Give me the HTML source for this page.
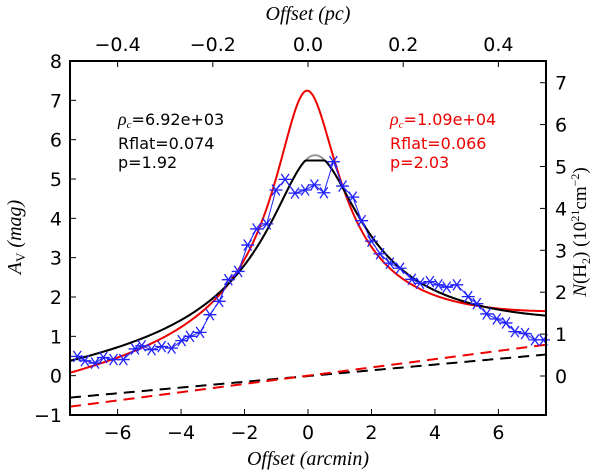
<!DOCTYPE html>
<html><head><meta charset="utf-8"><style>
body{margin:0;background:#fff;}
svg{display:block;font-family:"DejaVu Sans","Liberation Sans",sans-serif;}
</style></head><body>
<svg id="chart" width="600" height="473" viewBox="0 0 600 473">
<g id="plot"></g>
</svg>
<script>
const obsX=[-7.27,-7.03,-6.71,-6.45,-6.13,-5.82,-5.45,-5.24,-4.93,-4.61,-4.30,-3.98,-3.72,-3.40,-3.09,-2.80,-2.51,-2.20,-1.90,-1.62,-1.30,-1.01,-0.72,-0.41,-0.09,0.20,0.50,0.80,1.09,1.41,1.69,2.00,2.27,2.58,2.90,3.27,3.53,3.84,4.11,4.37,4.69,5.05,5.32,5.63,5.95,6.24,6.52,6.84,7.15,7.42];
const obsAv=[0.49,0.38,0.32,0.46,0.41,0.41,0.68,0.76,0.66,0.74,0.70,0.89,1.00,1.10,1.55,1.89,2.44,2.65,3.32,3.73,3.86,4.72,4.99,4.64,4.72,4.85,4.65,5.44,4.82,4.54,3.94,3.42,3.10,2.86,2.73,2.45,2.35,2.39,2.31,2.25,2.31,2.01,1.83,1.57,1.44,1.34,1.12,1.07,0.91,0.91];
// model parameters: [amplitude, Rflat(arcmin), p, constant, center, bgSlope, bgOffset]
const modelRed=[7.29,0.99,2.03,-0.04,-0.04,0.105,0.0];
const modelBlack=[5.68,1.4,2.0,-0.08,0.2,0.073,-0.01];
const blackClip=[5.47];
const xTicks=[-6,-4,-2,0,2,4,6];
const yTicks=[-1,0,1,2,3,4,5,6,7,8];
const pcTicks=[-0.4,-0.2,0.0,0.2,0.4];
const nTicks=[0,1,2,3,4,5,6,7];

const L=70,R=546,T=61,B=415;
const xs=v=>L+(v+7.5)/15*(R-L);
const ys=v=>B-(v+1)/9*(B-T);
const pcs=v=>xs(v*15);
const ns=v=>376-v*41.9;
const NS="http://www.w3.org/2000/svg";
const g=document.getElementById('plot');
function el(tag,attrs,parent){const e=document.createElementNS(NS,tag);for(const k in attrs)e.setAttribute(k,attrs[k]);(parent||g).appendChild(e);return e;}
function txt(s,attrs){const e=el('text',attrs);e.textContent=s;return e;}
const fmt=v=>(v<0?'\u2212':'')+Math.abs(v);

function model(m,x){const r=(x-m[4])/m[1];return m[0]*Math.pow(1+r*r,-(m[2]-1)/2)+m[3]+m[5]*x+m[6];}
function bg(m,x){return m[5]*x+m[6];}
function path(fn){let d='';for(let i=0;i<=300;i++){const x=-7.5+15*i/300;d+=(i?'L':'M')+xs(x).toFixed(2)+','+ys(fn(x)).toFixed(2);}return d;}

let p;
p=el('path',{d:path(x=>bg(modelBlack,x)),fill:'none',stroke:'#000','stroke-width':2,'stroke-dasharray':'11,7'});

p=el('path',{d:path(x=>bg(modelRed,x)),fill:'none',stroke:'#e00','stroke-width':2,'stroke-dasharray':'11,7'});

p=el('path',{d:path(x=>model(modelBlack,x)),fill:'none',stroke:'#999','stroke-width':2});

p=el('path',{d:path(x=>model(modelRed,x)),fill:'none',stroke:'#e00','stroke-width':2});

p=el('path',{d:path(x=>Math.min(blackClip[0],model(modelBlack,x))),fill:'none',stroke:'#000','stroke-width':2});


let d='';obsX.forEach((x,i)=>{d+=(i?'L':'M')+xs(x)+','+ys(obsAv[i]);});
p=el('path',{d:d,fill:'none',stroke:'#22f','stroke-width':1});

obsX.forEach((x,i)=>{const cx=xs(x),cy=ys(obsAv[i]),s=6.5;
 const m=el('path',{d:`M${cx-s},${cy}L${cx+s},${cy}M${cx-s*0.6},${cy-s*0.85}L${cx+s*0.6},${cy+s*0.85}M${cx-s*0.6},${cy+s*0.85}L${cx+s*0.6},${cy-s*0.85}`,stroke:'#22f','stroke-width':1.3,fill:'none'});
 });

p=el('rect',{x:L,y:T,width:R-L,height:B-T,fill:'none',stroke:'#000','stroke-width':2});


xTicks.forEach(v=>{const x=xs(v);el('line',{x1:x,x2:x,y1:B,y2:B-6,stroke:'#000','stroke-width':1});
 const t=txt(fmt(v),{x:x,y:B+24,'font-size':19,'text-anchor':'middle'});});
pcTicks.forEach(v=>{const x=pcs(v);el('line',{x1:x,x2:x,y1:T,y2:T+6,stroke:'#000','stroke-width':1});
 const t=txt((v<0?'\u2212':'')+Math.abs(v).toFixed(1),{x:x,y:T-10,'font-size':19,'text-anchor':'middle'});
 });
yTicks.forEach(v=>{const y=ys(v);el('line',{x1:L,x2:L+6,y1:y,y2:y,stroke:'#000','stroke-width':1});
 const t=txt(fmt(v),{x:L-8,y:y+7,'font-size':19,'text-anchor':'end'});});
nTicks.forEach(v=>{const y=ns(v);el('line',{x1:R,x2:R-6,y1:y,y2:y,stroke:'#000','stroke-width':1});
 const t=txt(String(v),{x:R+9,y:y+7,'font-size':19,'text-anchor':'start'});});
</script>
<svg width="600" height="473" style="position:absolute;left:0;top:0">
<text x="308" y="465" font-size="20" text-anchor="middle" font-family="Liberation Serif,serif" font-style="italic">Offset (arcmin)</text>
<text x="308" y="20" font-size="20" text-anchor="middle" font-family="Liberation Serif,serif" font-style="italic">Offset (pc)</text>
<text transform="translate(21,237) rotate(-90)" font-size="20" text-anchor="middle" font-family="Liberation Serif,serif"><tspan font-style="italic">A</tspan><tspan font-size="13" dy="4">V</tspan><tspan dy="-4" font-style="italic"> (mag)</tspan></text>
<text transform="translate(586,232) rotate(-90)" font-size="19" text-anchor="middle" font-family="Liberation Serif,serif"><tspan font-style="italic">N</tspan>(H<tspan font-size="12" dy="4">2</tspan><tspan dy="-4">)  (10</tspan><tspan font-size="12" dy="-7">21</tspan><tspan dy="7">cm</tspan><tspan font-size="12" dy="-7">−2</tspan><tspan dy="7">)</tspan></text>
<g font-size="16" fill="#000">
<text x="118" y="125"><tspan font-family="Liberation Serif,serif" font-style="italic" font-size="18">ρ</tspan><tspan font-size="11" dy="3" font-family="Liberation Serif,serif" font-style="italic">c</tspan><tspan dy="-3">=6.92e+03</tspan></text>
<text x="118" y="149">Rflat=0.074</text>
<text x="118" y="168">p=1.92</text>
</g>
<g font-size="16" fill="#e00">
<text x="390" y="125"><tspan font-family="Liberation Serif,serif" font-style="italic" font-size="18">ρ</tspan><tspan font-size="11" dy="3" font-family="Liberation Serif,serif" font-style="italic">c</tspan><tspan dy="-3">=1.09e+04</tspan></text>
<text x="390" y="149">Rflat=0.066</text>
<text x="390" y="168">p=2.03</text>
</g>
</svg>
</body></html>
